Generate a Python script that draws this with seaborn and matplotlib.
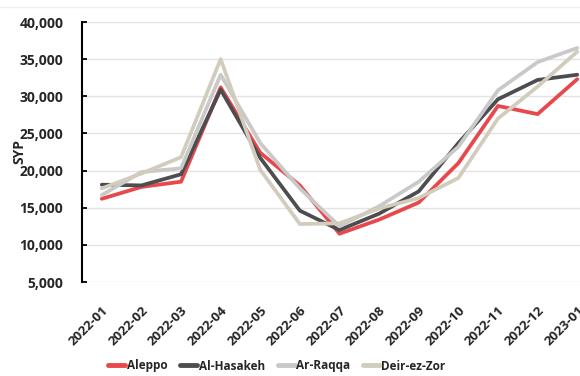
import numpy as np
import pandas as pd
import matplotlib
matplotlib.use("Agg")
import matplotlib.pyplot as plt
import matplotlib.transforms as mtransforms
import seaborn as sns
from matplotlib.lines import Line2D

months = ["2022-01", "2022-02", "2022-03", "2022-04", "2022-05", "2022-06", "2022-07",
          "2022-08", "2022-09", "2022-10", "2022-11", "2022-12", "2023-01"]

aleppo = [16200, 17800, 18500, 31200, 22400, 18000, 11500, 13400, 15700, 21000, 28700, 27600, 32300]
al_hasakeh = [18100, 18000, 19500, 30900, 21700, 14600, 12000, 14200, 17200, 23700, 29600, 32200, 32900]
ar_raqqa = [16700, 19800, 20300, 32900, 23700, 17600, 12500, 15200, 18500, 23200, 30800, 34600, 36500]
deir_ez_zor = [17600, 19600, 21800, 35000, 20100, 12800, 12900, 14900, 16300, 19000, 27000, 31300, 36000]

regions = ["Aleppo", "Al-Hasakeh", "Ar-Raqqa", "Deir-ez-Zor"]
colors = ["#E8474C", "#4D4D4F", "#C9C9C9", "#D2CCBC"]

df = pd.DataFrame({
    "month": months * 4,
    "idx": list(range(len(months))) * 4,
    "region": np.repeat(regions, len(months)),
    "price": aleppo + al_hasakeh + ar_raqqa + deir_ez_zor,
})

sns.set_theme(style="white")
plt.rcParams["font.family"] = ["Open Sans", "DejaVu Sans"]
plt.rcParams["font.weight"] = "bold"

fig = plt.figure(figsize=(5.8, 3.76), dpi=100)
ax = fig.add_axes([82 / 580, 1 - 282 / 376, (597 - 82) / 580, (282 - 22) / 376])

# draw the four regions, later series on top
for name, col in zip(regions, colors):
    sub = df[df["region"] == name]
    sns.lineplot(data=sub, x="idx", y="price", color=col, linewidth=2.7,
                 ax=ax, legend=False, zorder=3)

ax.set_xlim(-0.5, len(months) - 0.5)
ax.set_ylim(5000, 40000)
ax.set_yticks(np.arange(5000, 40001, 5000))
ax.set_yticklabels([f"{v:,}" for v in range(5000, 40001, 5000)], fontsize=10, fontweight="bold")
ax.yaxis.grid(True, color="#E3E3E3", linewidth=1.0, zorder=0)
ax.xaxis.grid(False)

ax.set_xticks(range(len(months)))
ax.set_xticklabels(months, rotation=45, ha="right", rotation_mode="anchor",
                   fontsize=9.6, fontweight="bold")
ax.tick_params(axis="x", length=0, pad=16)
ax.tick_params(axis="y", direction="in", length=3.5, width=1.3, color="black",
               pad=13.5, left=True)
shift = mtransforms.ScaledTranslation(0, 0, fig.dpi_scale_trans)
for lab in ax.get_xticklabels():
    lab.set_transform(lab.get_transform() + shift)

ax.set_xlabel("")
ax.set_ylabel("SYP", fontsize=10, fontweight="bold")
ax.yaxis.set_label_coords((26 - 82) / 515, (282 - 152) / 260)

for s in ["top", "right", "bottom"]:
    ax.spines[s].set_visible(False)
ax.spines["left"].set_color("black")
ax.spines["left"].set_linewidth(1.5)
ax.spines["left"].set_zorder(4)

# faint frame line across the top
fig.add_artist(Line2D([0, 1], [1 - 7 / 376, 1 - 7 / 376], color="#F0F0F0", linewidth=1.0))

handles = [Line2D([0], [0], color=c, linewidth=3.5) for c in colors]
fig.legend(handles, regions, loc="center", bbox_to_anchor=(277 / 580, 1 - 366 / 376),
           ncol=4, frameon=False, handlelength=1.45, handletextpad=0.1,
           columnspacing=1.1, prop={"weight": "bold", "size": 8.5})

fig.savefig("out.png", dpi=100)
